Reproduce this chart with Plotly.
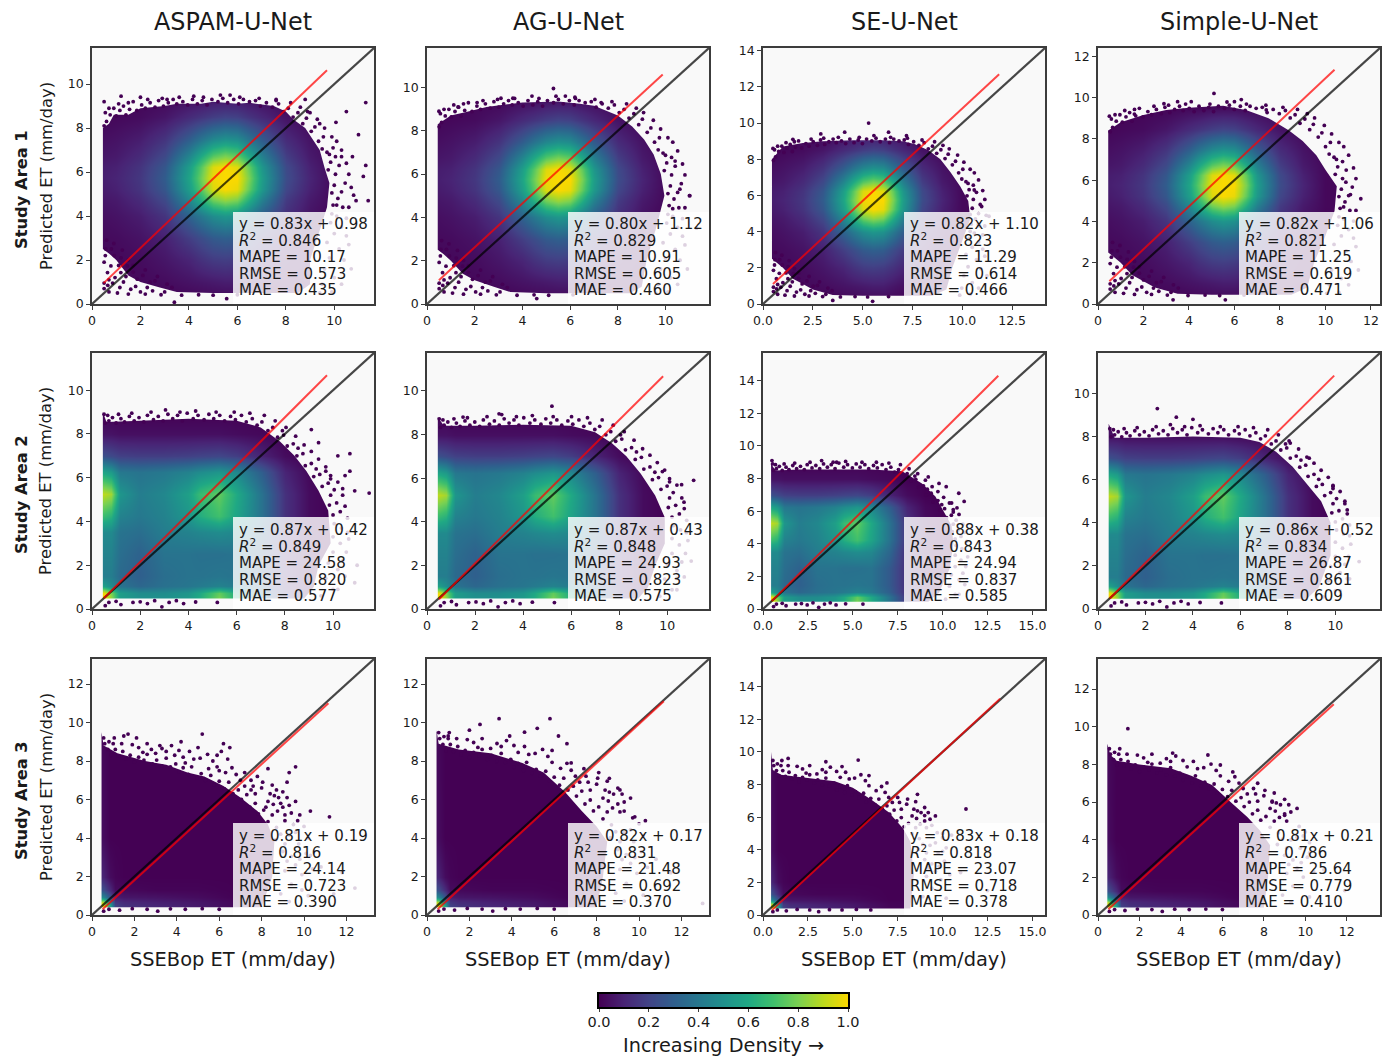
import plotly.graph_objects as go

MODELS = ["ASPAM-U-Net", "AG-U-Net", "SE-U-Net", "Simple-U-Net"]
AREAS = ["Study Area 1", "Study Area 2", "Study Area 3"]
AXIS_MAX = [[11.64, 11.82, 14.15, 12.4], [11.7, 11.74, 15.7, 11.88], [13.3, 13.3, 15.7, 13.6]]
X_STEP = [[2, 2, 2.5, 2], [2, 2, 2.5, 2], [2, 2, 2.5, 2]]

EQUATION = [["y = 0.83x + 0.98", "y = 0.80x + 1.12", "y = 0.82x + 1.10", "y = 0.82x + 1.06"],
            ["y = 0.87x + 0.42", "y = 0.87x + 0.43", "y = 0.88x + 0.38", "y = 0.86x + 0.52"],
            ["y = 0.81x + 0.19", "y = 0.82x + 0.17", "y = 0.83x + 0.18", "y = 0.81x + 0.21"]]
R2 = [["0.846", "0.829", "0.823", "0.821"], ["0.849", "0.848", "0.843", "0.834"], ["0.816", "0.831", "0.818", "0.786"]]
MAPE = [["10.17", "10.91", "11.29", "11.25"], ["24.58", "24.93", "24.94", "26.87"], ["24.14", "21.48", "23.07", "25.64"]]
RMSE = [["0.573", "0.605", "0.614", "0.619"], ["0.820", "0.823", "0.837", "0.861"], ["0.723", "0.692", "0.718", "0.779"]]
MAE = [["0.435", "0.460", "0.466", "0.471"], ["0.577", "0.575", "0.585", "0.609"], ["0.390", "0.370", "0.378", "0.410"]]

RED_X = [[[0.48, 9.7], [0.5, 9.88], [0.5, 11.85], [0.5, 10.4]],
         [[0.5, 9.75], [0.5, 9.83], [0.5, 13.1], [0.5, 9.95]],
         [[0.5, 11.15], [0.5, 11.17], [0.5, 13.2], [0.5, 11.37]]]
RED_Y = [[[0.95, 10.63], [1.1, 10.6], [1.1, 12.7], [1.1, 11.35]],
         [[0.5, 10.68], [0.45, 10.67], [0.5, 14.3], [0.5, 10.83]],
         [[0.3, 11.0], [0.3, 11.1], [0.3, 13.27], [0.3, 11.2]]]

CBAR_VALUES = [0, .1, .2, .3, .4, .5, .6, .7, .8, .9, 1]
CBAR_TICKS = [0, .2, .4, .6, .8, 1]

# density grids (rows bottom to top)
A1_X = [0, 1, 2, 3, 4, 4.5, 5, 5.5, 6, 6.5, 7, 8, 9, 10, 15]
A1_Y = [0, 1, 2, 3, 4, 4.75, 5.25, 5.75, 6.25, 6.75, 7.5, 8.5, 9.5, 15]
A1_Z = [
    [0, 0, 0, 0, 0, 0, 0, 0, 0, 0, 0, 0, 0, 0, 0],
    [.01, .01, .02, .03, .05, .06, .07, .08, .08, .06, .04, .02, .01, 0, 0],
    [.02, .02, .03, .06, .10, .14, .17, .18, .17, .14, .10, .05, .02, 0, 0],
    [.02, .03, .05, .09, .18, .23, .28, .30, .29, .23, .17, .08, .03, .01, 0],
    [.03, .05, .08, .15, .31, .40, .48, .52, .50, .40, .29, .13, .05, .01, 0],
    [.05, .07, .12, .22, .46, .62, .78, .84, .80, .62, .43, .17, .07, .02, 0],
    [.06, .09, .15, .27, .55, .74, .95, 1.0, .97, .76, .53, .21, .09, .02, 0],
    [.07, .10, .16, .29, .58, .78, .98, 1.0, 1.0, .80, .55, .23, .10, .02, 0],
    [.07, .09, .15, .27, .55, .74, .95, 1.0, .96, .76, .52, .22, .09, .02, 0],
    [.05, .07, .12, .22, .45, .60, .74, .80, .76, .60, .43, .18, .07, .02, 0],
    [.03, .05, .08, .15, .29, .38, .46, .50, .48, .38, .28, .12, .05, .01, 0],
    [.01, .02, .03, .06, .12, .15, .18, .20, .19, .15, .11, .05, .02, 0, 0],
    [0, 0, .01, .01, .02, .02, .03, .03, .03, .02, .02, .01, 0, 0, 0],
    [0, 0, 0, 0, 0, 0, 0, 0, 0, 0, 0, 0, 0, 0, 0],
]
A2_X = [0, .5, .8, 1.15, 2, 3, 4, 4.5, 5.25, 6, 7, 8, 9, 10, 15]
A2_Y = [0, .25, .45, .75, 1.05, 1.5, 2.5, 3.5, 4.25, 5.25, 6.25, 7, 8, 9, 15]
A2_Z = [
    [0, 0, 0, 0, 0, 0, 0, 0, 0, 0, 0, 0, 0, 0, 0],
    [.3, .3, .15, .05, .05, .05, .05, .05, .05, .05, .03, .01, 0, 0, 0],
    [1, 1, .85, .55, .5, .5, .54, .62, .8, .62, .38, .14, .02, 0, 0],
    [1, .98, .8, .55, .48, .48, .52, .6, .76, .6, .38, .14, .02, 0, 0],
    [.58, .56, .48, .38, .33, .37, .39, .41, .44, .41, .3, .12, .02, 0, 0],
    [.42, .42, .42, .34, .3, .36, .38, .38, .39, .38, .28, .12, .02, 0, 0],
    [.44, .44, .44, .36, .31, .38, .38, .37, .37, .38, .28, .12, .02, 0, 0],
    [.47, .47, .47, .38, .36, .42, .44, .46, .48, .46, .33, .12, .02, 0, 0],
    [.68, .68, .64, .44, .40, .44, .52, .62, .7, .58, .38, .14, .03, 0, 0],
    [.9, .9, .86, .52, .42, .46, .56, .68, .76, .6, .38, .14, .03, 0, 0],
    [.58, .58, .54, .4, .38, .4, .44, .48, .52, .46, .3, .1, .02, 0, 0],
    [.22, .24, .22, .19, .18, .18, .19, .2, .21, .18, .1, .03, 0, 0, 0],
    [.05, .05, .05, .04, .04, .04, .04, .04, .04, .03, .02, 0, 0, 0, 0],
    [0, 0, 0, 0, 0, 0, 0, 0, 0, 0, 0, 0, 0, 0, 0],
    [0, 0, 0, 0, 0, 0, 0, 0, 0, 0, 0, 0, 0, 0, 0],
]
A3_X = [0, .5, .85, 1.1, 1.5, 3, 5, 7, 15]
A3_Y = [0, .3, .45, .7, .95, 1.3, 2, 4, 15]
A3_Z = [
    [0, 0, 0, 0, 0, 0, 0, 0, 0],
    [.6, .6, .2, .05, .03, .02, 0, 0, 0],
    [1, 1, .6, .2, .15, .11, .07, .01, 0],
    [.92, .88, .46, .16, .12, .09, .06, .01, 0],
    [.5, .46, .26, .08, .06, .05, .03, 0, 0],
    [.28, .24, .12, .03, .02, .01, .01, 0, 0],
    [.12, .1, .03, .01, 0, 0, 0, 0, 0],
    [.04, .03, 0, 0, 0, 0, 0, 0, 0],
    [0, 0, 0, 0, 0, 0, 0, 0, 0],
]

# solid outline of each scatter cloud, clockwise
OUT_11 = [(.45, 2.5), (.45, 8.0), (.7, 8.2), (.9, 8.6), (1.5, 8.6), (2, 8.9), (3.0, 9.0), (3.5, 9.1), (4.5, 9.1), (5, 9.2), (6, 9.1), (6.5, 9.15), (7.5, 9.0), (8.0, 8.75), (8.3, 8.4), (8.8, 8.0), (9.1, 7.5), (9.4, 7.0), (9.6, 6.2), (9.8, 5.5), (9.7, 4.4), (9.3, 3), (9, 2), (9, .9), (8.5, .5), (5, .5), (3.5, .55), (2.8, .75), (2, 1), (1.5, 1.3), (1, 2), (.7, 2.3)]
OUT_12 = [(.45, 2.5), (.45, 8.3), (1, 8.7), (1.6, 8.85), (2.5, 9.1), (3.2, 9.2), (4, 9.3), (5.5, 9.35), (6.4, 9.25), (7, 9.15), (8, 8.7), (8.6, 8.2), (9.1, 7.6), (9.5, 6.9), (9.8, 6), (9.95, 5), (9.6, 3.5), (9.2, 2), (9, .8), (8.5, .5), (5, .5), (3.5, .55), (2.8, .8), (2, 1.1), (1.5, 1.4), (1, 2), (.7, 2.3)]
OUT_13 = [(.45, 2.5), (.45, 8.0), (1, 8.7), (2, 8.9), (3, 9), (4.5, 9.05), (6, 9.05), (7, 9.0), (7.6, 8.85), (8.3, 8.5), (8.9, 8), (9.4, 7.3), (9.9, 6.5), (10.3, 5.7), (10.4, 4.7), (10, 3.5), (9.5, 2), (9.2, .8), (8.5, .45), (5, .45), (3.5, .5), (2.5, .8), (2, 1.1), (1.5, 1.4), (1, 2)]
OUT_14 = [(.45, 2.5), (.45, 8.4), (1, 8.8), (2, 9.15), (3, 9.4), (4, 9.5), (5.5, 9.6), (6.5, 9.4), (7.5, 9.0), (8.4, 8.4), (9, 7.9), (9.6, 7.2), (10, 6.5), (10.5, 5.7), (10.4, 4.5), (10, 3.3), (9.5, 2), (9.2, .8), (8.5, .45), (5, .45), (3.5, .5), (2.5, .8), (2, 1.1), (1.5, 1.4), (1, 2)]
OUT_21 = [(.45, .48), (.45, 9.0), (.6, 8.55), (2, 8.6), (4, 8.7), (6, 8.6), (7, 8.3), (7.8, 7.65), (8.4, 7), (8.9, 6.3), (9.4, 5.4), (9.8, 4.5), (9.9, 3), (9.4, 2), (9.2, 1), (8.8, .48)]
OUT_22 = [(.45, .48), (.45, 8.8), (.7, 8.4), (2, 8.4), (4, 8.45), (6, 8.4), (7, 8.1), (7.7, 7.6), (8.3, 7), (8.9, 6.2), (9.5, 5.2), (9.9, 4.2), (9.9, 3), (9.5, 2), (9.2, 1), (8.8, .48)]
OUT_23 = [(.45, .45), (.45, 8.9), (.7, 8.5), (2, 8.55), (4, 8.55), (6, 8.55), (7.75, 8.45), (8.85, 7.7), (9.6, 6.9), (10.1, 5.9), (10.5, 5.1), (10.6, 4), (10.4, 2.5), (9.8, 1), (9.2, .45)]
OUT_24 = [(.45, .48), (.45, 8.6), (.7, 7.95), (2, 7.95), (4, 8), (6, 7.95), (6.8, 7.75), (7.5, 7.3), (8.2, 6.6), (8.8, 5.8), (9.4, 5), (9.8, 4), (9.8, 2.5), (9.3, 1), (8.8, .48)]
OUT_31 = [(.45, .4), (.45, 9.5), (.55, 8.8), (1.2, 8.4), (2.5, 8.0), (3.5, 7.8), (4.5, 7.4), (5.3, 7.2), (6.2, 6.7), (7, 6.1), (7.8, 5.4), (8.3, 4.7), (8.6, 3.8), (8.5, 2), (8, .4)]
OUT_32 = [(.45, .4), (.45, 9.6), (.55, 8.9), (1.5, 8.6), (3, 8.4), (4.5, 7.9), (5.5, 7.4), (6.5, 6.4), (7.3, 5.4), (8, 4.6), (8.5, 3.8), (8.3, 2), (8, .4)]
OUT_33 = [(.45, .4), (.45, 10), (.55, 8.9), (1, 8.6), (2.5, 8.4), (4, 8.2), (5, 7.8), (6, 7.1), (7, 6.3), (7.8, 5.3), (8.2, 4.5), (8.4, 2.5), (8.2, .4)]
OUT_34 = [(.45, .4), (.45, 9.1), (.6, 8.5), (.9, 8.2), (2, 8), (3.5, 7.8), (4.5, 7.4), (5.5, 6.9), (6.5, 5.9), (7.2, 5.2), (7.8, 4.5), (8.3, 3.7), (8.2, 2), (8, .4)]

# separate points outside the solid outline
DOTS_11 = [(11.3, 9.16), (10.5, 8.75), (10.07, 8.26), (11, 7.7), (11.3, 6.3), (11.4, 4.7), (11.2, 5.8), (10.75, 6.7), (10.3, 6.7), (9.95, 7.1), (9.4, 8.2), (9, 8.7), (1.2, 9.45), (.5, 9.2), (2, 9.4), (3.1, 9.3), (4.2, 9.45), (5.7, 9.5), (7.6, 9.3), (8.8, 9.3), (10.7, 5.3), (10.9, 4.7), (10.1, 4.5), (3.4, .08), (5.56, .24)]
DOTS_12 = [(5.3, 9.95), (4.4, 9.6), (3.1, 9.5), (2.1, 9.3), (1.3, 9.1), (.5, 8.9), (6.2, 9.55), (7.3, 9.3), (10.4, 6.6), (10.6, 5.3), (11.0, 5.0), (10.3, 4.4), (5.8, 9.6), (3.6, 9.5), (11.3, 3.5), (4.6, .25)]
DOTS_13 = [(5.3, 10), (4.1, 9.5), (2.9, 9.4), (1.5, 9.1), (.5, 8.6), (6.3, 9.5), (7.2, 9.3), (10.6, 6.3), (10.9, 5.5), (11.2, 4.9), (3.5, .2), (5.5, .15), (10.8, 4.4)]
DOTS_14 = [(5.1, 10.2), (4.1, 9.8), (2.9, 9.7), (1.6, 9.2), (.5, 9.1), (6.3, 9.9), (7.4, 9.4), (10.9, 5.9), (11.1, 5.3), (10.8, 4.7), (6.0, 9.8), (3.5, 9.8), (3.3, .2), (5.6, .2)]
DOTS_21 = [(10.7, 7.1), (10.2, 7), (10.7, 6.3), (9.4, 7.6), (9.1, 8.2), (10.9, 5.4), (11.5, 5.3), (10.4, 5.5), (10.5, 6.1), (9.7, 6.3), (10.6, 3.5), (11, 2), (10.9, 1.2)]
DOTS_22 = [(5.2, 9.3), (3, 8.95), (1.5, 8.8), (9.8, 6.3), (10.6, 5.7), (11.1, 5.9), (10.7, 4.9), (10.8, 3.5), (11, 2.2), (10.4, 1.4)]
DOTS_23 = [(.5, 9.1), (4.1, 9), (9.2, 8.1), (9.8, 7.7), (10.2, 7.5), (10.9, 7.1), (11.2, 6.6), (10.5, 6.5), (10.8, 6.2)]
DOTS_24 = [(2.5, 9.3), (3.3, 8.9), (4, 8.8), (8.1, 7.7), (8.9, 7), (9.9, 5.7), (10.4, 5), (10.5, 4.6), (10.6, 3.4), (11, 2.2), (10.6, 1.4)]
DOTS_31 = [(1.5, 9.3), (1.7, 9.4), (2.1, 9.2), (2.8, 8.6), (3.2, 8.8), (4.2, 9), (5.2, 9.4), (5, 8.7), (6.2, 8.9), (6.1, 8.5), (6.4, 8.1), (6.5, 8.7), (3.9, 8.3), (4.4, 7.9), (5.5, 7.6), (6, 7.5), (7.2, 7.4), (7.8, 7.2), (8.3, 7.6), (9.3, 7.4), (9.6, 7.7), (9.2, 6.9), (8.7, 6.5), (9.4, 5.3), (10.3, 5.4), (11.2, 5.1), (9.8, 5.2), (9.5, 4.7), (9.1, 4.9), (8.9, 5.8), (8.2, 5.6), (7.5, 6.5), (10.3, 3.1), (10.8, 2.5), (11.8, 2.2), (11.4, 1.1), (12.4, 1.4), (9.9, 1.3)]
DOTS_32 = [(1, 9.3), (2, 9.6), (2.5, 9.9), (3.4, 10.2), (3.9, 9.3), (4.6, 9.5), (5.2, 9.7), (5.8, 10.2), (6.2, 9.3), (6.6, 8.9), (6.8, 7.9), (7.4, 7.6), (8.1, 7.4), (8.6, 7.1), (9.1, 6.5), (9.3, 5.4), (9.8, 5.1), (10.3, 4.9), (10.8, 2.9), (11.5, 2.2), (13, .6)]
DOTS_33 = [(1.4, 9.6), (3.5, 9.4), (4.4, 9.1), (5.3, 9.5), (6.9, 8.1), (8.6, 7.4), (9, 6.1), (9.4, 5.5), (10, 5), (11.3, 6.5), (10.5, 4.9), (10, 3.9), (11, 2.6), (12.5, 1.5)]
DOTS_34 = [(1.44, 9.9), (3.6, 8.6), (5.3, 8.5), (6.5, 7.6), (7.7, 7), (8.4, 6), (9, 5.3), (9.9, 4.2), (10.2, 3.3), (10.9, 2.4), (11.9, 1.3)]

# the dense fringe of points along the cloud's edge, one list per study area
FRINGE_1 = [(.5, 8.1), (.55, 8.7), (.6, 8.3), (.75, 8.6), (.9, 8.9), (1.0, 8.55), (1.15, 8.8), (1.3, 9.0), (1.4, 8.6), (1.55, 8.85), (1.7, 9.2), (1.85, 8.8), (2.05, 9.05), (2.2, 8.9), (2.4, 9.15), (2.6, 8.95), (2.75, 9.25), (2.95, 9.0), (3.15, 9.15), (3.35, 9.3), (3.5, 9.1), (3.75, 9.2), (3.95, 9.05), (4.15, 9.3), (4.35, 9.1), (4.55, 9.25), (4.75, 9.05), (4.95, 9.3), (5.2, 9.2), (5.4, 9.35), (5.6, 9.15), (5.85, 9.3), (6.05, 9.1), (6.25, 9.3), (6.5, 9.2), (6.75, 9.25), (6.95, 9.0), (7.2, 9.15), (7.45, 8.95), (7.7, 9.1), (7.9, 8.75), (8.1, 8.9), (8.3, 8.5), (8.5, 8.7), (8.7, 8.2), (8.85, 8.45), (9.05, 7.85), (9.2, 8.05), (9.35, 7.4), (9.55, 7.6), (9.7, 6.9), (9.5, 7.05), (9.85, 6.45), (9.75, 6.1), (10.05, 5.9), (10.2, 6.3), (10, 5.4), (10.3, 5.1), (10.15, 4.8), (9.95, 4.5), (10.35, 4.4), (10.1, 4.0), (9.85, 3.7), (10, 3.2), (9.7, 2.8), (10.2, 2.5), (9.8, 2.1), (9.6, 1.6), (10, 1.2), (9.5, .9), (9.4, .5),
            (.7, 8.9), (1.1, 9.1), (1.5, 9.15), (2.3, 9.3), (2.9, 9.35), (3.6, 9.4), (4.6, 9.4), (5.3, 9.5), (6.1, 9.4), (6.9, 9.35), (7.6, 9.25), (8.2, 9.15), (8.6, 8.95), (8.9, 8.75), (9.3, 8.4), (9.6, 8.0), (9.9, 7.6), (10.1, 7.4), (10.3, 7.0), (10.5, 6.4), (10.6, 5.9), (10.45, 5.5), (10.8, 4.95), (10.6, 4.4), (10.5, 3.9), (10.3, 3.5), (10.5, 3.1), (10.6, 2.7), (10.4, 2.0), (10.7, 1.6), (10.3, .9), (9.9, .55), (9.8, 6.8), (10.05, 6.7), (9.9, 5.05), (9.9, 4.1),
            (.6, 2.9), (.9, 2.75), (1.25, 2.45), (1.7, 1.75), (2.2, 1.55), (2.7, 1.25), (3.1, .9), (.65, .85), (.85, .95), (1.15, .75), (1.5, .45), (2.2, .45), (2.85, .42),
            (.64, 1.43), (.92, 2.2), (1.19, 1.43), (1.6, .67), (1.05, .5), (1.87, 1.13), (2.28, .75), (.57, 2.5), (.78, 1.73), (1.46, 1.73), (.5, .95), (.5, 1.9), (.7, .55), (.8, 2.5), (1.2, 2.1), (1.5, 2.0), (1.3, 1.0), (2.0, .55), (2.5, .6), (2.6, 1.05), (3, .55), (.55, 2.2), (.5, .7), (1.8, .8), (1.1, 1.75), (.95, 1.2), (.7, 1.1), (1.4, 1.25), (1.7, 1.45), (2.1, 1.3), (2.4, 1.0), (3.3, .75), (3.7, .4), (4.4, .42), (5, .4), (6, .42)]
FRINGE_2 = [(.5, 8.9), (.55, 8.5), (.7, 8.6), (.85, 8.75), (1.0, 8.5), (1.2, 8.7), (1.35, 8.55), (1.55, 8.8), (1.75, 8.6), (1.95, 8.75), (2.15, 8.55), (2.3, 8.85), (2.55, 8.65), (2.75, 8.8), (2.95, 8.6), (3.15, 8.9), (3.35, 8.7), (3.55, 8.85), (3.75, 8.6), (3.95, 8.95), (4.2, 8.7), (4.4, 8.85), (4.65, 8.65), (4.85, 8.9), (5.05, 8.7), (5.3, 8.85), (5.5, 8.6), (5.75, 8.8), (5.95, 8.65), (6.2, 8.85), (6.4, 8.55), (6.65, 8.7), (6.85, 8.4), (7.05, 8.55), (7.3, 8.15), (7.5, 8.3), (7.7, 7.85), (7.95, 7.95), (8.1, 7.45), (8.35, 7.55), (8.5, 7.0), (8.75, 7.1), (8.85, 6.55), (9.1, 6.65), (9.2, 6.05), (9.45, 6.15), (9.55, 5.6), (9.8, 5.75), (9.9, 5.2), (10.05, 5.45), (9.85, 4.75), (10.15, 4.85), (10, 4.3), (10.3, 4.45), (10.05, 3.9), (10.35, 3.7), (10, 3.3), (10.3, 3), (10, 2.6), (9.8, 2.1), (10.2, 1.8), (9.7, 1.4), (10, .9), (9.5, .6),
            (.65, 8.85), (1.1, 8.9), (1.65, 8.95), (2.45, 9.0), (3.05, 9.1), (3.65, 9.0), (4.3, 9.05), (5.15, 9.0), (5.9, 9.0), (6.55, 8.95), (7.15, 8.85), (7.6, 8.6), (8.05, 8.3), (8.45, 7.9), (8.8, 7.5), (9.1, 7.2), (9.4, 6.85), (9.7, 6.5), (9.9, 6.1), (10.2, 5.8), (10.4, 5.2), (10.5, 4.7), (10.6, 4.15), (10.65, 3.2), (10.55, 2.6), (10.4, 2.2), (10.5, 1.5), (10.2, .9), (9.9, 5.95), (8.55, 7.35), (7.9, 8.15), (9.3, 6.4),
            (.7, .3), (1.2, .2), (1.7, .3), (2.3, .25), (2.9, .1), (3.2, .3), (3.8, .25), (4.3, .32), (5.2, .3), (1, .35), (2, .33), (2.6, .38), (3.5, .38), (.55, .15)]
FRINGE_3 = [(.55, 9.2), (.6, 8.9), (.75, 8.6), (.9, 8.3), (1.1, 8.6), (1.25, 8.25), (1.45, 8.5), (1.6, 8.1), (1.8, 8.3), (2.0, 7.95), (2.2, 8.2), (2.45, 8.05), (2.6, 8.35), (2.85, 7.85), (3.05, 8.05), (3.3, 7.75), (3.5, 8.15), (3.7, 7.7), (3.95, 7.85), (4.1, 7.45), (4.3, 7.65), (4.55, 7.3), (4.7, 7.7), (4.95, 7.15), (5.15, 7.35), (5.35, 7.0), (5.6, 7.25), (5.75, 6.75), (6, 6.95), (6.25, 6.55), (6.45, 6.9), (6.65, 6.3), (6.9, 6.5), (7.05, 6), (7.3, 6.25), (7.45, 5.6), (7.7, 5.8), (7.85, 5.25), (8.1, 5.45), (8.3, 4.85), (8.5, 5.2), (8.7, 4.55), (8.9, 4.2), (8.65, 3.9), (9.1, 3.7), (9.3, 4.15), (9, 3.3), (9.4, 3.05), (9.6, 2.6), (9.1, 2.3), (9.9, 2.1), (9.4, 1.6), (8.9, 1.1), (10.2, 1), (9.3, .7),
            (1.0, 8.9), (2.2, 8.7), (3.5, 8.5), (4.3, 8.2), (5.7, 8.0), (6.8, 7.3), (7.5, 7.0), (8, 6.6), (8.4, 6.3), (8.8, 6.1), (9, 5.6), (8.3, 5.9), (7.7, 6.3), (3.0, 8.4), (4.8, 8.1), (5.9, 7.7), (.8, 9), (1.4, 8.9), (2.6, 8.9),
            (1.05, 9.2), (1.9, 8.85), (2.4, 8.45), (3.3, 8.65), (3.75, 8.8), (4.1, 8.55), (4.6, 8.5), (5.1, 8.15), (5.45, 8.35), (5.9, 8.3), (6.6, 7.65), (6.3, 7.4), (7, 7.0), (7.2, 6.7), (7.6, 6.7), (8.05, 6.9), (8.5, 6.75), (8.6, 6.2), (9.0, 6.4), (9.2, 6.1), (8.55, 5.75), (9.3, 5.7), (9.6, 5.9), (9.1, 5.2), (8.75, 5.4), (9.7, 4.9), (10, 4.6), (9.6, 4.3), (10.2, 4), (9.75, 3.7), (10.1, 3.2), (9.8, 2.9), (10.4, 2.4), (9.2, 2.8),
            (.8, .3), (1.3, .25), (1.9, .33), (2.6, .3), (3.1, .2), (3.7, .32), (4.4, .3), (5.2, .33), (6, .3), (.55, .2)]
FRINGE_SX = [[1, 1.02, 1.05, 1.07], [1, 1.02, 1.07, 1], [1, 1, 1, 1]]
FRINGE_SY = [[1, 1.01, .98, 1.03], [1, .98, 1, .94], [1, 1.03, 1.03, .96]]

OUTLINES = [[OUT_11, OUT_12, OUT_13, OUT_14], [OUT_21, OUT_22, OUT_23, OUT_24], [OUT_31, OUT_32, OUT_33, OUT_34]]
DOTS = [[DOTS_11, DOTS_12, DOTS_13, DOTS_14], [DOTS_21, DOTS_22, DOTS_23, DOTS_24], [DOTS_31, DOTS_32, DOTS_33, DOTS_34]]
FRINGES = [FRINGE_1, FRINGE_2, FRINGE_3]
GRIDS = [(A1_X, A1_Y, A1_Z), (A2_X, A2_Y, A2_Z), (A3_X, A3_Y, A3_Z)]

W, H = 1390, 1057
LEFT = [91, 426, 762, 1097]
TOP = [47, 352, 658]
PW, PH = 284, 258
BG = "#f9f9f9"
INK = "#1a1a1a"
FRAME = "#3c3c3c"
PURPLE = "#440154"
FONT = "DejaVu Sans"
SCALE = [[0, "#440154"], [.1, "#482475"], [.2, "#414487"], [.3, "#2f5f8d"], [.4, "#26788e"], [.5, "#1f918c"],
         [.6, "#1fa884"], [.7, "#3fbf6c"], [.8, "#7ad151"], [.9, "#bcd91c"], [1, "#fbd800"]]

fig = go.Figure()
layout = dict(width=W, height=H, margin=dict(l=0, r=0, t=0, b=0), paper_bgcolor="white", plot_bgcolor=BG,
              showlegend=False, font=dict(family=FONT, color=INK), shapes=[], annotations=[],
              coloraxis=dict(cmin=0, cmax=1, colorscale=SCALE, showscale=False))


def note(text, px, py, size, angle=0, anchor="center", weight=None):
    layout["annotations"].append(dict(text=text, x=px / W, y=1 - py / H, xref="paper", yref="paper", showarrow=False,
                                      xanchor=anchor, yanchor="middle", textangle=angle,
                                      font=dict(size=size, family=FONT, color=INK, weight=weight)))


n = 0
for r in range(3):
    gx, gy, gz = GRIDS[r]
    for c in range(4):
        n += 1
        xa = "x" if n == 1 else f"x{n}"
        ya = "y" if n == 1 else f"y{n}"
        m = AXIS_MAX[r][c]
        fig.add_trace(go.Heatmap(x=gx, y=gy, z=gz, zsmooth="best", coloraxis="coloraxis", xaxis=xa, yaxis=ya,
                                 hoverinfo="skip"))
        # everything outside the cloud outline is covered with the panel background
        out = OUTLINES[r][c]
        ox, oy = zip(*out)
        lo, hi = -1, 20
        mx = [lo, hi, hi, lo, lo] + list(ox) + [ox[0], lo]
        my = [lo, lo, hi, hi, lo] + list(oy) + [oy[0], lo]
        fig.add_trace(go.Scatter(x=mx, y=my, mode="lines", fill="toself", fillcolor=BG, line=dict(width=0, simplify=False),
                                 xaxis=xa, yaxis=ya, hoverinfo="skip"))
        sx, sy = FRINGE_SX[r][c], FRINGE_SY[r][c]
        fringe = [(p[0] * sx, p[1] * sy) for p in FRINGES[r]]
        pts = DOTS[r][c] + fringe
        fig.add_trace(go.Scatter(x=[p[0] for p in pts], y=[p[1] for p in pts], mode="markers",
                                 marker=dict(size=3.8, color=PURPLE), xaxis=xa, yaxis=ya, hoverinfo="skip"))
        fig.add_trace(go.Scatter(x=[0, m], y=[0, m], mode="lines", line=dict(color="rgba(0,0,0,0.72)", width=2.2),
                                 xaxis=xa, yaxis=ya, hoverinfo="skip"))
        fig.add_trace(go.Scatter(x=RED_X[r][c], y=RED_Y[r][c], mode="lines", line=dict(color="rgba(255,0,0,0.72)", width=2),
                                 xaxis=xa, yaxis=ya, hoverinfo="skip"))
        axis = dict(range=[0, m], showgrid=False, zeroline=False, showline=True, mirror=True, linecolor=FRAME, linewidth=1.5,
                    automargin=False, ticks="outside", ticklen=4, tickcolor=FRAME, tickwidth=1,
                    tickfont=dict(size=12.5, family=FONT, color=INK))
        l, t = LEFT[c], TOP[r]
        xkey = "xaxis" if n == 1 else f"xaxis{n}"
        ykey = "yaxis" if n == 1 else f"yaxis{n}"
        xfmt = ".1f" if X_STEP[r][c] == 2.5 else "d"
        layout[xkey] = dict(axis, domain=[(l + 1) / W, (l + PW - 1) / W], anchor=ya, dtick=X_STEP[r][c], tickformat=xfmt)
        layout[ykey] = dict(axis, domain=[1 - (t + PH - 1) / H, 1 - (t + 1) / H], anchor=xa, dtick=2, tickformat="d")
        layout["shapes"].append(dict(type="rect", xref="paper", yref="paper", x0=(l + 142) / W, x1=(l + PW - 1) / W,
                                     y0=1 - (t + PH - 1) / H, y1=1 - (t + 165) / H, fillcolor="rgba(255,255,255,0.82)",
                                     line=dict(width=0), layer="above"))
        lines = [EQUATION[r][c], "<i>R</i><sup>2</sup> = " + R2[r][c], "MAPE = " + MAPE[r][c],
                 "RMSE = " + RMSE[r][c], "MAE = " + MAE[r][c]]
        for line, dy in zip(lines, [177.5, 193.5, 210.5, 227.5, 243.5]):
            note(line, l + 146, t + dy, 15, anchor="left")
        if r == 0:
            note(MODELS[c], l + PW / 2, 22, 23.9)
        if r == 2:
            note("SSEBop ET (mm/day)", l + PW / 2, 959, 19.4)
    note(AREAS[r], 21, TOP[r] + PH / 2 + 14, 16.3, angle=-90, weight="bold")
    note("Predicted ET (mm/day)", 46, TOP[r] + PH / 2, 16.4, angle=-90)

# colour bar as its own small axes
fig.add_trace(go.Heatmap(x=CBAR_VALUES, y=[0, 1], z=[CBAR_VALUES, CBAR_VALUES], zsmooth="best", coloraxis="coloraxis",
                         xaxis="x13", yaxis="y13", hoverinfo="skip"))
layout["xaxis13"] = dict(domain=[599 / W, 848 / W], anchor="y13", range=[0, 1], tickvals=CBAR_TICKS, tickformat=".1f",
                         automargin=False, showgrid=False, zeroline=False, showline=True, mirror=True, linecolor="black",
                         linewidth=1.5, ticks="outside", ticklen=3, tickcolor=FRAME, ticklabelstandoff=-2,
                         tickfont=dict(size=14.5, family=FONT, color=INK))
layout["yaxis13"] = dict(domain=[1 - 1007 / H, 1 - 994 / H], anchor="x13", range=[0, 1], showticklabels=False, ticks="",
                         automargin=False, showgrid=False, zeroline=False, showline=True, mirror=True, linecolor="black",
                         linewidth=1.5)
note("Increasing Density →", (598 + 849) / 2, 1045, 19.3)

fig.update_layout(**layout)
fig.write_html("out.html", config={"displayModeBar": False}, post_script="document.body.style.margin='0';")
